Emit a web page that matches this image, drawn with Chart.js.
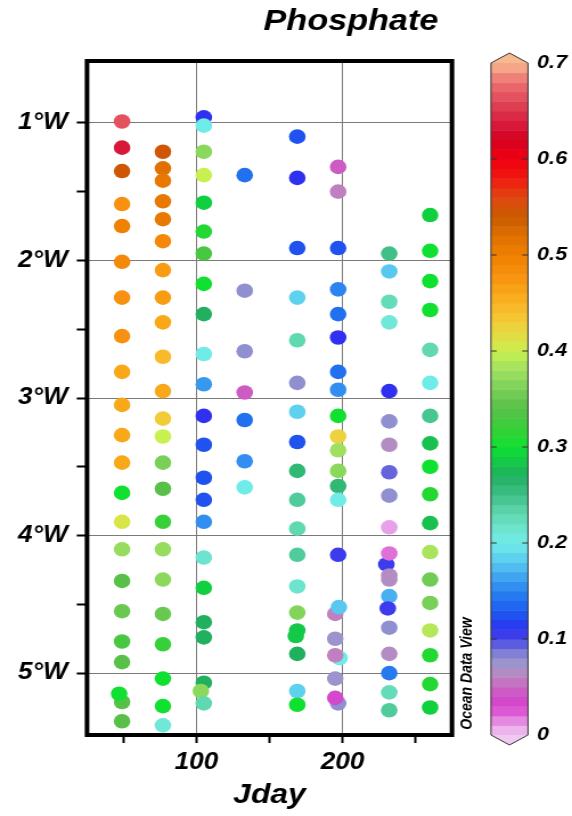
<!DOCTYPE html>
<html>
<head>
<meta charset="utf-8">
<script src="https://cdn.jsdelivr.net/npm/chart.js"></script>
<style>
  html, body { margin: 0; padding: 0; background: #fff; overflow: hidden; }
  /* the original figure is a bit stretched sideways, so we stretch the canvas too */
  #chart { transform: scaleX(1.1394); transform-origin: 0 0; }
</style>
</head>
<body>
<canvas id="chart" width="502" height="816"></canvas>
<script>
// == Data: one line per station ==
const jday = [
  49, 49, 49, 49, 49, 49, 49, 49, 49, 49, 49, 49, 49, 49, 49, 49, 49, 49, 49, 49, 49, 47,
  77, 77, 77, 77, 77, 77, 77, 77, 77, 77, 77, 77, 77, 77, 77, 77, 77, 77, 77, 77, 77, 77, 77,
  105, 105, 105, 105, 105, 105, 105, 105, 105, 105, 105, 105, 105, 105, 105, 105, 105, 105, 105, 105, 105, 103, 105,
  133, 133, 133, 133, 133, 133, 133,
  169, 169, 169, 169, 169, 169, 169, 169, 169, 169, 169, 169, 169, 169, 169, 168, 169, 169, 169,
  197, 197, 197, 197, 197, 197, 197, 197, 197, 197, 197, 197, 197, 197, 197, 195, 197.5, 195, 198, 195, 195, 197, 195,
  232, 232, 232, 232, 232, 232, 232, 232, 232, 232, 230, 232, 232, 232, 232, 231, 232, 232, 232, 232, 232,
  260, 260, 260, 260, 260, 260, 260, 260, 260, 260, 260, 260, 260, 260, 260, 260, 260, 260
];
const lonW = [
  0.99, 1.18, 1.35, 1.59, 1.75, 2.01, 2.27, 2.55, 2.81, 3.05, 3.27, 3.47, 3.69, 3.90, 4.10, 4.33, 4.55, 4.77, 4.92, 5.21, 5.35, 5.15,
  1.21, 1.33, 1.42, 1.57, 1.70, 1.86, 2.07, 2.27, 2.45, 2.70, 2.95, 3.15, 3.28, 3.47, 3.66, 3.90, 4.10, 4.32, 4.57, 4.79, 5.04, 5.24, 5.38,
  0.96, 1.02, 1.21, 1.38, 1.58, 1.79, 1.95, 2.17, 2.39, 2.68, 2.90, 3.13, 3.34, 3.58, 3.74, 3.90, 4.16, 4.38, 4.63, 4.74, 5.07, 5.13, 5.22,
  1.38, 2.22, 2.66, 2.96, 3.16, 3.46, 3.65,
  1.10, 1.40, 1.91, 2.27, 2.58, 2.89, 3.10, 3.32, 3.53, 3.74, 3.95, 4.14, 4.37, 4.56, 4.69, 4.73, 4.86, 5.13, 5.23,
  1.32, 1.50, 1.91, 2.21, 2.39, 2.56, 2.81, 2.94, 3.13, 3.28, 3.38, 3.53, 3.64, 3.74, 4.14, 4.57, 4.52, 4.75, 4.89, 4.87, 5.04, 5.22, 5.18,
  1.95, 2.08, 2.30, 2.45, 2.95, 3.17, 3.34, 3.54, 3.71, 3.94, 4.21, 4.13, 4.29, 4.32, 4.44, 4.53, 4.67, 4.86, 5.00, 5.14, 5.27,
  1.67, 1.93, 2.15, 2.36, 2.65, 2.89, 3.13, 3.33, 3.50, 3.70, 3.91, 4.12, 4.32, 4.49, 4.69, 4.87, 5.08, 5.25
];
const phosphate = [
  0.665, 0.635, 0.545, 0.48, 0.50, 0.49, 0.48, 0.48, 0.46, 0.46, 0.46, 0.46, 0.30, 0.41, 0.375, 0.34, 0.35, 0.33, 0.34, 0.34, 0.34, 0.30,
  0.545, 0.52, 0.51, 0.51, 0.51, 0.49, 0.47, 0.47, 0.46, 0.445, 0.46, 0.43, 0.40, 0.36, 0.34, 0.32, 0.375, 0.37, 0.35, 0.32, 0.30, 0.30, 0.21,
  0.11, 0.20, 0.37, 0.40, 0.29, 0.31, 0.33, 0.30, 0.27, 0.20, 0.16, 0.11, 0.125, 0.125, 0.125, 0.155, 0.215, 0.29, 0.27, 0.27, 0.27, 0.37, 0.23,
  0.14, 0.08, 0.08, 0.045, 0.14, 0.155, 0.20,
  0.125, 0.11, 0.125, 0.185, 0.23, 0.08, 0.185, 0.125, 0.26, 0.24, 0.23, 0.24, 0.215, 0.365, 0.285, 0.285, 0.27, 0.185, 0.30,
  0.045, 0.06, 0.125, 0.15, 0.14, 0.11, 0.14, 0.155, 0.30, 0.425, 0.38, 0.37, 0.26, 0.20, 0.105, 0.06, 0.18, 0.075, 0.20, 0.06, 0.075, 0.08, 0.035,
  0.25, 0.18, 0.225, 0.21, 0.11, 0.08, 0.065, 0.093, 0.08, 0.01, 0.105, 0.02, 0.065, 0.065, 0.17, 0.105, 0.08, 0.065, 0.145, 0.225, 0.24,
  0.29, 0.30, 0.30, 0.30, 0.23, 0.20, 0.245, 0.28, 0.30, 0.31, 0.28, 0.385, 0.355, 0.36, 0.39, 0.31, 0.31, 0.29
];

const xTicks = [50, 100, 150, 200, 250];
const xLabels = [100, 200];
const yTicks = [-5, -4.5, -4, -3.5, -3, -2.5, -2, -1.5, -1];
const cbarTicks = [0, 0.1, 0.2, 0.3, 0.4, 0.5, 0.6, 0.7];

// == Colour scale (ODV-like) ==
const cmapStops = [0.00, 0.01, 0.02, 0.03, 0.04, 0.05, 0.06, 0.07, 0.08, 0.09, 0.10, 0.11, 0.12, 0.14, 0.16, 0.18,
  0.20, 0.21, 0.23, 0.25, 0.27, 0.28, 0.29, 0.30, 0.32, 0.34, 0.36, 0.38, 0.40, 0.42, 0.44, 0.46, 0.48, 0.50,
  0.52, 0.54, 0.56, 0.58, 0.60, 0.62, 0.64, 0.66, 0.68, 0.70];
const cmapColors = ['#f0c8f0', '#e8a0e8', '#e070d8', '#d840d0', '#d050c8', '#c868c0', '#c080c0', '#a898c8', '#9090d0', '#7070d8',
  '#4848e8', '#3030f0', '#2048f0', '#2070f0', '#3898f0', '#58c8f0',
  '#70ece8', '#70e8d8', '#60d8b0', '#40c088', '#20b060', '#18c050', '#10d040', '#10e030', '#38d038', '#58c048', '#78d058', '#a0e060',
  '#c8f050', '#e8d840', '#f8c030', '#f8a818', '#f89010', '#f08000',
  '#e07000', '#c85a00', '#e04810', '#f01810', '#f00010', '#d40020', '#d82040', '#e04858', '#ec7070', '#f8b890'];

function hexToRgb(h) {
  return [parseInt(h.slice(1, 3), 16), parseInt(h.slice(3, 5), 16), parseInt(h.slice(5, 7), 16)];
}

function colormap(v) {
  if (v <= cmapStops[0]) return cmapColors[0];
  for (let i = 1; i < cmapStops.length; i++) {
    if (v <= cmapStops[i]) {
      const t = (v - cmapStops[i - 1]) / (cmapStops[i] - cmapStops[i - 1]);
      const a = hexToRgb(cmapColors[i - 1]);
      const b = hexToRgb(cmapColors[i]);
      const c = a.map((x, k) => Math.round(x + (b[k] - x) * t));
      return `rgb(${c[0]},${c[1]},${c[2]})`;
    }
  }
  return cmapColors[cmapColors.length - 1];
}

const FONT = "'Liberation Sans', Arial, sans-serif";
const points = jday.map((d, i) => ({ x: d, y: -lonW[i] }));
const pointColors = phosphate.map(colormap);

// == Extras: frame, title, colour bar, ODV tag ==
const decorations = {
  id: 'decorations',
  afterDatasetsDraw(chart) {
    const { ctx, chartArea: a } = chart;
    ctx.save();
    ctx.strokeStyle = '#000';
    ctx.lineWidth = 4;
    ctx.strokeRect(a.left, a.top, a.right - a.left, a.bottom - a.top);
    ctx.restore();
  },
  afterDraw(chart) {
    const ctx = chart.ctx;
    ctx.save();

    // title
    ctx.fillStyle = '#000';
    ctx.font = `italic bold 30px ${FONT}`;
    ctx.textAlign = 'center';
    ctx.textBaseline = 'alphabetic';
    ctx.fillText('Phosphate', 308, 29.5);

    // colour bar
    const x0 = 430.9, x1 = 463.4, xc = (x0 + x1) / 2;
    const yTop = 63, yBot = 735;
    const cy = v => yBot - (v / 0.7) * (yBot - yTop);
    for (let i = 0; i < 70; i++) {
      ctx.fillStyle = colormap((i + 0.5) / 100);
      ctx.fillRect(x0, cy((i + 1) / 100), x1 - x0, cy(i / 100) - cy((i + 1) / 100) + 0.5);
    }
    ctx.fillStyle = colormap(0.7);
    ctx.beginPath();
    ctx.moveTo(x0, yTop); ctx.lineTo(xc, yTop - 10); ctx.lineTo(x1, yTop); ctx.closePath();
    ctx.fill();
    ctx.fillStyle = colormap(0);
    ctx.beginPath();
    ctx.moveTo(x0, yBot); ctx.lineTo(xc, yBot + 10); ctx.lineTo(x1, yBot); ctx.closePath();
    ctx.fill();

    ctx.strokeStyle = '#333';
    ctx.lineWidth = 1;
    ctx.beginPath();
    ctx.moveTo(x0, yTop); ctx.lineTo(xc, yTop - 10); ctx.lineTo(x1, yTop);
    ctx.lineTo(x1, yBot); ctx.lineTo(xc, yBot + 10); ctx.lineTo(x0, yBot); ctx.closePath();
    ctx.stroke();

    ctx.font = `italic bold 19px ${FONT}`;
    ctx.textAlign = 'left';
    ctx.textBaseline = 'middle';
    cbarTicks.forEach(v => {
      const y = cy(v);
      if (v > 0 && v < 0.7) {
        ctx.beginPath();
        ctx.moveTo(x0, y); ctx.lineTo(x0 + 5, y);
        ctx.moveTo(x1 - 5, y); ctx.lineTo(x1, y);
        ctx.stroke();
      }
      ctx.fillStyle = '#000';
      ctx.fillText(String(v), 471.3, y);
    });

    // ODV tag
    ctx.translate(410.3, 673.5);
    ctx.rotate(-Math.PI / 2);
    ctx.font = `italic bold 14px ${FONT}`;
    ctx.textAlign = 'center';
    ctx.fillText('Ocean Data View', 0, 0);
    ctx.restore();
  }
};

const ctx = document.getElementById('chart').getContext('2d');
new Chart(ctx, {
  type: 'scatter',
  data: {
    datasets: [{
      data: points,
      pointBackgroundColor: pointColors,
      pointBorderWidth: 0,
      pointRadius: 7.3,
      pointHoverRadius: 7.3
    }]
  },
  options: {
    responsive: false,
    animation: false,
    devicePixelRatio: 1,
    layout: { padding: { top: 61, right: 105.3, left: 0, bottom: 0 } },
    plugins: { legend: { display: false }, tooltip: { enabled: false } },
    scales: {
      x: {
        type: 'linear',
        min: 25,
        max: 275,
        afterBuildTicks: s => { s.ticks = xTicks.map(v => ({ value: v })); },
        afterFit: s => { s.height = 81; },
        border: { display: false },
        grid: {
          color: c => xLabels.includes(c.tick && c.tick.value) ? '#7a7a7a' : 'rgba(0,0,0,0)',
          lineWidth: 1,
          tickColor: '#000',
          tickWidth: 2,
          tickLength: 8
        },
        ticks: {
          padding: 6,
          color: '#000',
          font: { family: FONT, size: 23, weight: 'bold', style: 'italic' },
          callback: v => xLabels.includes(v) ? String(v) : ''
        },
        title: {
          display: true,
          text: 'Jday',
          color: '#000',
          font: { family: FONT, size: 28, weight: 'bold', style: 'italic' },
          padding: { top: 0, bottom: 4 }
        }
      },
      y: {
        type: 'linear',
        min: -5.45,
        max: -0.55,
        afterBuildTicks: s => { s.ticks = yTicks.map(v => ({ value: v })); },
        afterFit: s => { s.width = 76.35; },
        border: { display: false },
        grid: {
          color: c => Number.isInteger(c.tick && c.tick.value) ? '#7a7a7a' : 'rgba(0,0,0,0)',
          lineWidth: 1,
          tickColor: '#000',
          tickWidth: 2,
          tickLength: 9
        },
        ticks: {
          padding: 8,
          color: '#000',
          font: { family: FONT, size: 23, weight: 'bold', style: 'italic' },
          callback: v => Number.isInteger(v) ? `${-v}°W` : ''
        }
      }
    }
  },
  plugins: [decorations]
});
</script>
</body>
</html>
